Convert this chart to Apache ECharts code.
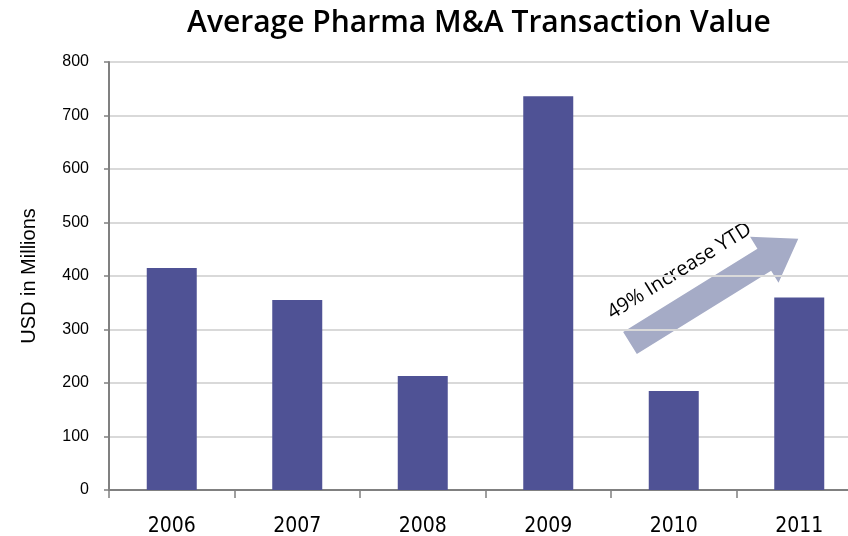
<!DOCTYPE html>
<html>
<head>
<meta charset="utf-8">
<script src="https://cdn.jsdelivr.net/npm/echarts@6/dist/echarts.min.js"></script>
<style>
  html, body { margin: 0; padding: 0; background: #fff; }
  #chart { width: 848px; height: 536px; }
</style>
</head>
<body>
<div id="chart"></div>
<script>
var years = ['2006', '2007', '2008', '2009', '2010', '2011'];
var dealValues = [415, 355, 213, 736, 185, 360];
var yTicks = [0, 100, 200, 300, 400, 500, 600, 700, 800];

var chart = echarts.init(document.getElementById('chart'));

// arrow drawn along +x then rotated
var arrowLen = 198;
var arrowPts = [
    [0, -13], [arrowLen - 40, -13], [arrowLen - 40, -27],
    [arrowLen, 0], [arrowLen - 40, 27], [arrowLen - 40, 13], [0, 13]
];
var arrowAngle = 31.8 * Math.PI / 180;

var option = {
    animation: false,
    title: {
        text: 'Average Pharma M&A Transaction Value',
        left: 474,
        textAlign: 'center',
        top: 3,
        textStyle: {
            fontFamily: 'Open Sans',
            fontWeight: 600,
            fontSize: 30,
            color: '#000'
        }
    },
    grid: {
        left: 109,
        width: 753,
        top: 62,
        bottom: 46,
        outerBoundsMode: 'none'
    },
    xAxis: {
        type: 'category',
        data: years,
        axisLine: { lineStyle: { color: '#808080', width: 2 } },
        axisTick: { show: true, length: 8, lineStyle: { color: '#808080', width: 1.5 } },
        axisLabel: {
            margin: 26,
            fontFamily: 'Liberation Sans Narrow, DejaVu Sans Condensed, sans-serif',
            fontSize: 21,
            color: '#000'
        }
    },
    yAxis: {
        type: 'value',
        min: 0,
        max: 800,
        interval: 100,
        name: 'USD in Millions',
        nameLocation: 'middle',
        nameGap: 70,
        nameTextStyle: {
            fontFamily: 'Liberation Sans',
            fontSize: 20,
            color: '#000'
        },
        axisLine: { show: true, lineStyle: { color: '#808080', width: 2 } },
        axisTick: { show: true, length: 5, lineStyle: { color: '#808080', width: 1.5 } },
        axisLabel: {
            margin: 20,
            fontFamily: 'Liberation Sans',
            fontSize: 16,
            color: '#000',
            formatter: function (v) { return yTicks.indexOf(v) >= 0 ? String(v) : ''; }
        },
        splitLine: { lineStyle: { color: '#d9d9d9', width: 2 } }
    },
    series: [{
        type: 'bar',
        data: dealValues,
        barWidth: 50,
        itemStyle: { color: '#4f5295' }
    }],
    graphic: [{
        type: 'group',
        x: 630,
        y: 343,
        rotation: arrowAngle,
        children: [{
            type: 'polygon',
            shape: { points: arrowPts },
            style: { fill: '#a5abc6' }
        }, {
            type: 'text',
            x: 80,
            y: -25,
            style: {
                text: '49% Increase YTD',
                fontFamily: 'Open Sans',
                fontSize: 20,
                fill: '#000',
                textAlign: 'center',
                textVerticalAlign: 'bottom'
            }
        }]
    }]
};

chart.setOption(option);
</script>
</body>
</html>
